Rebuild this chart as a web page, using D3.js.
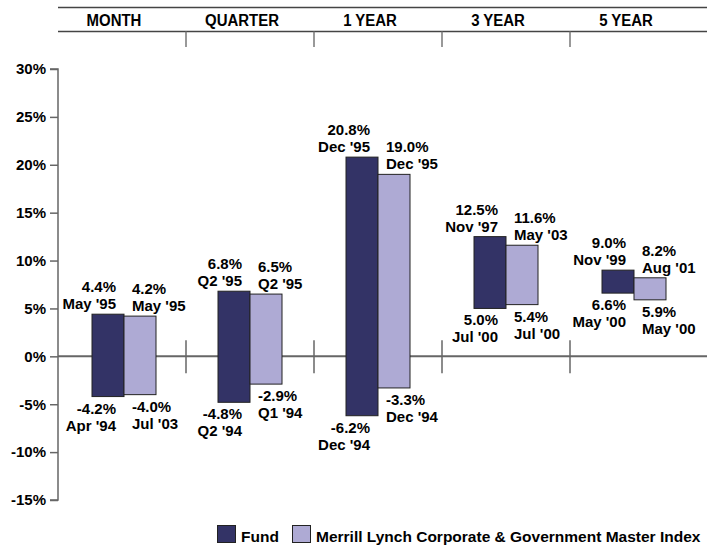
<!DOCTYPE html>
<html><head><meta charset="utf-8">
<script src="https://cdn.jsdelivr.net/npm/d3@7"></script>
<style>
body{margin:0;background:#fff;}
text{font-family:"Liberation Sans",Arial,sans-serif;font-weight:bold;fill:#000;}
</style></head>
<body>
<svg id="chart" width="707" height="547"></svg>
<script>
const categories = ["MONTH","QUARTER","1 YEAR","3 YEAR","5 YEAR"];
const fundHigh = [4.4, 6.8, 20.8, 12.5, 9.0];
const fundLow = [-4.2, -4.8, -6.2, 5.0, 6.6];
const fundHighDate = ["May '95","Q2 '95","Dec '95","Nov '97","Nov '99"];
const fundLowDate = ["Apr '94","Q2 '94","Dec '94","Jul '00","May '00"];
const indexHigh = [4.2, 6.5, 19.0, 11.6, 8.2];
const indexLow = [-4.0, -2.9, -3.3, 5.4, 5.9];
const indexHighDate = ["May '95","Q2 '95","Dec '95","May '03","Aug '01"];
const indexLowDate = ["Jul '03","Q1 '94","Dec '94","Jul '00","May '00"];
const yTicks = [-15,-10,-5,0,5,10,15,20,25,30];
const seriesNames = ["Fund","Merrill Lynch Corporate & Government Master Index"];
const colors = ["#333366","#aeaad4"];

const svg = d3.select("#chart");
const x = d3.scaleBand().domain(categories).range([58, 698]);
const y = d3.scaleLinear().domain([-15, 30]).range([500, 69]);
const bw = 32;
const fs = 15;

// header
svg.append("line").attr("x1",58).attr("x2",707).attr("y1",7.5).attr("y2",7.5).attr("stroke","#444").attr("stroke-width",1.5);
svg.append("line").attr("x1",58).attr("x2",707).attr("y1",31.5).attr("y2",31.5).attr("stroke","#444").attr("stroke-width",1.5);
svg.selectAll(".hdr").data(categories).join("text")
  .attr("transform", d => `translate(${x(d) + x.bandwidth()/2 - 8},26) scale(0.88,1)`)
  .attr("text-anchor","middle").style("font-size","17px").text(d => d);
svg.selectAll(".hsep").data(categories.slice(1)).join("line")
  .attr("x1", d => x(d)).attr("x2", d => x(d)).attr("y1",31.5).attr("y2",47)
  .attr("stroke","#777").attr("stroke-width",1.5);

// y axis
const yAxis = svg.append("g").attr("transform","translate(58,0)")
  .call(d3.axisLeft(y).tickValues(yTicks).tickSize(8).tickPadding(4).tickFormat(d => d + "%"));
yAxis.select(".domain").attr("stroke","#666").attr("stroke-width",1.5).attr("d", `M-8,${y(30)}H0V${y(-15)}H-8`);
yAxis.selectAll(".tick line").attr("stroke","#666").attr("stroke-width",1.5);
yAxis.selectAll(".tick text").style("font-size","15px").attr("fill","#000")
  .style("font-family",'"Liberation Sans",Arial,sans-serif').style("font-weight","bold");

// zero line and separators
svg.append("line").attr("x1",58).attr("x2",707).attr("y1",y(0)).attr("y2",y(0)).attr("stroke","#666").attr("stroke-width",2);
svg.selectAll(".zsep").data(categories.slice(1)).join("line")
  .attr("x1", d => x(d)).attr("x2", d => x(d)).attr("y1", y(0)-16).attr("y2", y(0)+17)
  .attr("stroke","#666").attr("stroke-width",1.5);

const rows = categories.map((c,i) => ({c, fh:fundHigh[i], fl:fundLow[i], fhd:fundHighDate[i], fld:fundLowDate[i],
  ih:indexHigh[i], il:indexLow[i], ihd:indexHighDate[i], ild:indexLowDate[i]}));

const g = svg.append("g");
rows.forEach((r, i) => {
  const cx = x(r.c) + x.bandwidth()/2 + (i === 0 ? 2 : 0);
  g.append("rect").attr("x", cx - bw).attr("y", y(r.fh)).attr("width", bw).attr("height", y(r.fl) - y(r.fh))
    .attr("fill", colors[0]).attr("stroke","#222").attr("stroke-width",1);
  g.append("rect").attr("x", cx).attr("y", y(r.ih)).attr("width", bw).attr("height", y(r.il) - y(r.ih))
    .attr("fill", colors[1]).attr("stroke","#222").attr("stroke-width",1);
  const fmt = v => v.toFixed(1) + "%";
  const fx = cx - 8;
  g.append("text").attr("x", fx).attr("y", y(r.fh) - 22).attr("text-anchor","end").style("font-size",fs+"px").text(fmt(r.fh));
  g.append("text").attr("x", fx).attr("y", y(r.fh) - 5).attr("text-anchor","end").style("font-size",fs+"px").text(r.fhd);
  g.append("text").attr("x", fx).attr("y", y(r.fl) + 17).attr("text-anchor","end").style("font-size",fs+"px").text(fmt(r.fl));
  g.append("text").attr("x", fx).attr("y", y(r.fl) + 34).attr("text-anchor","end").style("font-size",fs+"px").text(r.fld);
  const ix = cx + 8;
  g.append("text").attr("x", ix).attr("y", y(r.ih) - 22).style("font-size",fs+"px").text(fmt(r.ih));
  g.append("text").attr("x", ix).attr("y", y(r.ih) - 5).style("font-size",fs+"px").text(r.ihd);
  g.append("text").attr("x", ix).attr("y", y(r.il) + 17).style("font-size",fs+"px").text(fmt(r.il));
  g.append("text").attr("x", ix).attr("y", y(r.il) + 34).style("font-size",fs+"px").text(r.ild);
});

// legend
const lg = svg.append("g");
const legX = [217, 292];
seriesNames.forEach((n,i) => {
  lg.append("rect").attr("x", legX[i] + 0.5).attr("y", 525.5).attr("width", 18).attr("height", 17)
    .attr("fill", colors[i]).attr("stroke","#222").attr("stroke-width",1);
  lg.append("text").attr("x", legX[i] + 24).attr("y", 542).style("font-size","15.5px").text(n);
});
</script>
</body></html>
